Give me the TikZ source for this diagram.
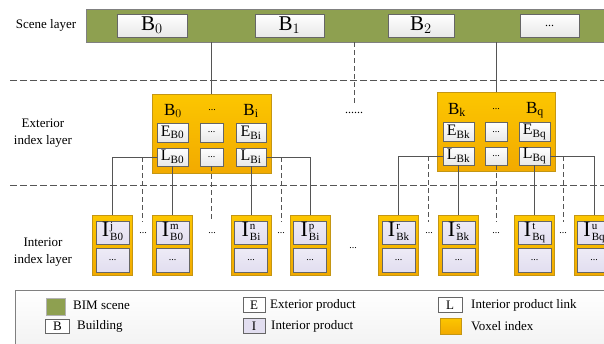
\documentclass[tikz,border=0pt]{standalone}
\usepackage{amsmath}
\usepackage{fontspec}
\setmainfont{Liberation Serif}
\usetikzlibrary{positioning,shadows}

\definecolor{scenegreen}{RGB}{142,160,80}
\definecolor{voxtop}{RGB}{252,198,0}
\definecolor{voxbot}{RGB}{242,170,0}
\definecolor{voxedge}{RGB}{196,150,20}
\definecolor{prodlila}{RGB}{226,222,240}
\definecolor{wiregray}{RGB}{85,85,85}

% interior product label: I with stacked index
\newcommand{\iprod}[2]{I\hspace{1pt}\raisebox{-4.5pt}{\fontsize{11}{11.5}\selectfont
	\begin{tabular}[b]{@{}l@{}}#1\\#2\end{tabular}}}

\tikzset{
	layerlbl/.style={align=center,font=\fontsize{13}{17}\selectfont},
	scenebar/.style={draw=gray,fill=scenegreen,minimum width=518pt,minimum height=33pt},
	bldg/.style={draw=gray!80!black,top color=white,bottom color=gray!18,
		drop shadow={shadow xshift=0.8pt,shadow yshift=-0.8pt,opacity=0.35},
		inner sep=0pt,minimum height=23pt,font=\fontsize{21}{21}\selectfont},
	voxel/.style={draw=voxedge,top color=voxtop,bottom color=voxbot,
		minimum width=119pt,minimum height=79pt},
	cell/.style={draw=gray!80!black,top color=white,bottom color=gray!18,
		drop shadow={shadow xshift=0.8pt,shadow yshift=-0.8pt,opacity=0.35},
		inner sep=0pt,minimum height=19pt,font=\fontsize{16}{16}\selectfont},
	dotcell/.style={cell,minimum width=23pt,font=\fontsize{10}{10}\selectfont},
	head/.style={inner sep=0pt,font=\fontsize{17}{17}\selectfont},
	ivoxel/.style={draw=voxedge,top color=voxtop,bottom color=voxbot,
		minimum width=40pt,minimum height=60pt},
	prod/.style={draw=gray!80!black,top color=prodlila!60,bottom color=prodlila,
		drop shadow={shadow xshift=0.8pt,shadow yshift=-0.8pt,opacity=0.35},
		inner sep=0pt,minimum width=33pt,minimum height=23pt,
		font=\fontsize{22}{22}\selectfont},
	pdots/.style={prod,minimum height=24pt,font=\fontsize{10}{10}\selectfont},
	gap/.style={inner sep=0pt,font=\fontsize{10}{10}\selectfont},
	wire/.style={draw=wiregray,line width=0.8pt},
	dwire/.style={wire,dash pattern=on 5pt off 3pt},
	sep/.style={draw=wiregray,line width=0.8pt,dash pattern=on 6.5pt off 3.5pt},
	legtxt/.style={anchor=west,inner sep=0pt,font=\fontsize{13}{13}\selectfont},
	legkey/.style={inner sep=0pt,font=\fontsize{13}{13}\selectfont}
}

\begin{document}
\begin{tikzpicture}[x=1pt,y=-1pt]
			\useasboundingbox (0,0) rectangle (604,343);

			% layer separators
			\draw[sep] (10,80) -- (604,80);
			\draw[sep] (10,185) -- (604,185);

			% scene layer
			\node[layerlbl] (lscene) at (46,25) {Scene layer};
			\node[scenebar] (scene) at (345,25.5) {};
			\node[bldg,minimum width=70pt] (b0) at (152,25.5) {B$_0$};
			\node[bldg,minimum width=69pt] (b1) at (289.5,25.5) {B$_1$};
			\node[bldg,minimum width=66pt] (b2) at (421,25.5) {B$_2$};
			\node[bldg,minimum width=59pt,font=\fontsize{12}{12}\selectfont] (bdots) at (549.5,25.5) {...};

			% exterior index layer
			\node[layerlbl] (lext) at (43,133) {Exterior\\index layer};

			\node[voxel] (vox1) at (211.5,133.5) {};
			\node[head] (hb0) at (173,111) {B$_0$};
			\node[head,font=\fontsize{10}{10}\selectfont] (hdots1) at (212,110) {...};
			\node[head] (hbi) at (251,111) {B$_{\text{i}}$};
			\node[cell,minimum width=31pt] (eb0) at (172.5,132.5) {E$_{\text{B0}}$};
			\node[dotcell] (edots1) at (211.5,132.5) {...};
			\node[cell,minimum width=30pt] (ebi) at (251,132.5) {E$_{\text{Bi}}$};
			\node[cell,minimum width=31pt,minimum height=18pt] (lb0) at (172.5,157) {L$_{\text{B0}}$};
			\node[dotcell,minimum height=18pt] (ldots1) at (211.5,157) {...};
			\node[cell,minimum width=30pt,minimum height=18pt] (lbi) at (251,157) {L$_{\text{Bi}}$};

			\node[voxel,minimum width=118pt] (vox2) at (496,132) {};
			\node[head] (hbk) at (457,110) {B$_{\text{k}}$};
			\node[head,font=\fontsize{10}{10}\selectfont] (hdots2) at (496,109) {...};
			\node[head] (hbq) at (535,110) {B$_{\text{q}}$};
			\node[cell,minimum width=31pt] (ebk) at (458.5,132) {E$_{\text{Bk}}$};
			\node[dotcell,minimum width=22pt] (edots2) at (496,132) {...};
			\node[cell,minimum width=31pt] (ebq) at (534.5,132) {E$_{\text{Bq}}$};
			\node[cell,minimum width=31pt,minimum height=18pt] (lbk) at (458.5,156) {L$_{\text{Bk}}$};
			\node[dotcell,minimum width=22pt,minimum height=18pt] (ldots2) at (496,156) {...};
			\node[cell,minimum width=31pt,minimum height=18pt] (lbq) at (534.5,156) {L$_{\text{Bq}}$};

			\node[gap,font=\fontsize{12}{12}\selectfont] (mid) at (354,113) {......};

			% interior index layer
			\node[layerlbl] (lint) at (43,252) {Interior\\index layer};

			\node[ivoxel] (i1) at (112.5,245) {};
			\node[prod] (i1a) at (112.5,232.5) {\iprod{j}{B0}};
			\node[pdots] (i1b) at (112.5,260) {...};
			\node[ivoxel] (i2) at (172.5,245) {};
			\node[prod] (i2a) at (172.5,232.5) {\iprod{m}{B0}};
			\node[pdots] (i2b) at (172.5,260) {...};
			\node[ivoxel] (i3) at (251,245) {};
			\node[prod] (i3a) at (251,232.5) {\iprod{n}{Bi}};
			\node[pdots] (i3b) at (251,260) {...};
			\node[ivoxel] (i4) at (310,245) {};
			\node[prod] (i4a) at (310,232.5) {\iprod{p}{Bi}};
			\node[pdots] (i4b) at (310,260) {...};
			\node[ivoxel] (i5) at (398.5,245) {};
			\node[prod] (i5a) at (398.5,232.5) {\iprod{r}{Bk}};
			\node[pdots] (i5b) at (398.5,260) {...};
			\node[ivoxel] (i6) at (458.5,245) {};
			\node[prod] (i6a) at (458.5,232.5) {\iprod{s}{Bk}};
			\node[pdots] (i6b) at (458.5,260) {...};
			\node[ivoxel] (i7) at (534.5,245) {};
			\node[prod] (i7a) at (534.5,232.5) {\iprod{t}{Bq}};
			\node[pdots] (i7b) at (534.5,260) {...};
			\node[ivoxel] (i8) at (594,245) {};
			\node[prod] (i8a) at (594,232.5) {\iprod{u}{Bq}};
			\node[pdots] (i8b) at (594,260) {...};

			\node[gap] (g1) at (143,233) {...};
			\node[gap] (g2) at (212,233) {...};
			\node[gap] (g3) at (281,233) {...};
			\node[gap] (g4) at (353,248) {...};
			\node[gap] (g5) at (429,233) {...};
			\node[gap] (g6) at (496,233) {...};
			\node[gap] (g7) at (563,233) {...};

			% ends of the dashed links
			\coordinate (d1) at (142,222);
			\coordinate (d2) at (281,222);
			\coordinate (d3) at (428,222);
			\coordinate (d4) at (563,222);
			\coordinate (dm) at (354,106);

			% connectors
			\draw[wire] (vox1.north) -- (vox1.north |- scene.south);
			\draw[wire] (vox2.north) -- (vox2.north |- scene.south);
			\draw[dwire] (dm |- scene.south) -- (dm);

			\draw[wire] (lb0.west) -| (i1.north);
			\draw[wire] (lb0.south) -- (i2.north);
			\draw[wire] (lbi.south) -- (i3.north);
			\draw[wire] (lbi.east) -| (i4.north);
			\draw[dwire] (d1 |- lb0.west) -- (d1);
			\draw[dwire] (ldots1.south) -- (ldots1.south |- d1);
			\draw[dwire] (d2 |- lbi.east) -- (d2);

			\draw[wire] (lbk.west) -| (i5.north);
			\draw[wire] (lbk.south) -- (i6.north);
			\draw[wire] (lbq.south) -- (i7.north);
			\draw[wire] (lbq.east) -| (i8.north);
			\draw[dwire] (d3 |- lbk.west) -- (d3);
			\draw[dwire] (ldots2.south) -- (ldots2.south |- d3);
			\draw[dwire] (d4 |- lbq.east) -- (d4);

			% legend
			\node[draw=gray,top color=white,bottom color=gray!12,
			minimum width=625pt,minimum height=70pt] (legend) at (327.5,325) {};
			\node[draw=gray!60,fill=scenegreen,minimum width=19pt,minimum height=17pt,inner sep=0pt] (kscene) at (55.5,306.5) {};
			\node[legtxt] (tscene) at (73,305.5) {BIM scene};
			\node[legkey,draw=gray!80!black,fill=white,minimum width=24pt,minimum height=14pt] (kbldg) at (57.5,326) {B};
			\node[legtxt] (tbldg) at (77,326) {Building};
			\node[legkey,draw=gray!80!black,fill=white,minimum width=22pt,minimum height=15pt] (kext) at (254,305) {E};
			\node[legtxt] (text) at (270,305.5) {Exterior product};
			\node[legkey,draw=gray!80!black,fill=prodlila,minimum width=22pt,minimum height=15pt] (kint) at (254,326) {I};
			\node[legtxt] (tint) at (271,326) {Interior product};
			\node[legkey,draw=gray!80!black,fill=white,minimum width=24pt,minimum height=15pt] (klink) at (450,305) {L};
			\node[legtxt] (tlink) at (471,305.5) {Interior product link};
			\node[draw=voxedge,top color=voxtop,bottom color=voxbot,minimum width=21pt,minimum height=16pt,inner sep=0pt] (kvox) at (450.5,326) {};
			\node[legtxt] (tvox) at (471,326) {Voxel index};
		\end{tikzpicture}
\end{document}
